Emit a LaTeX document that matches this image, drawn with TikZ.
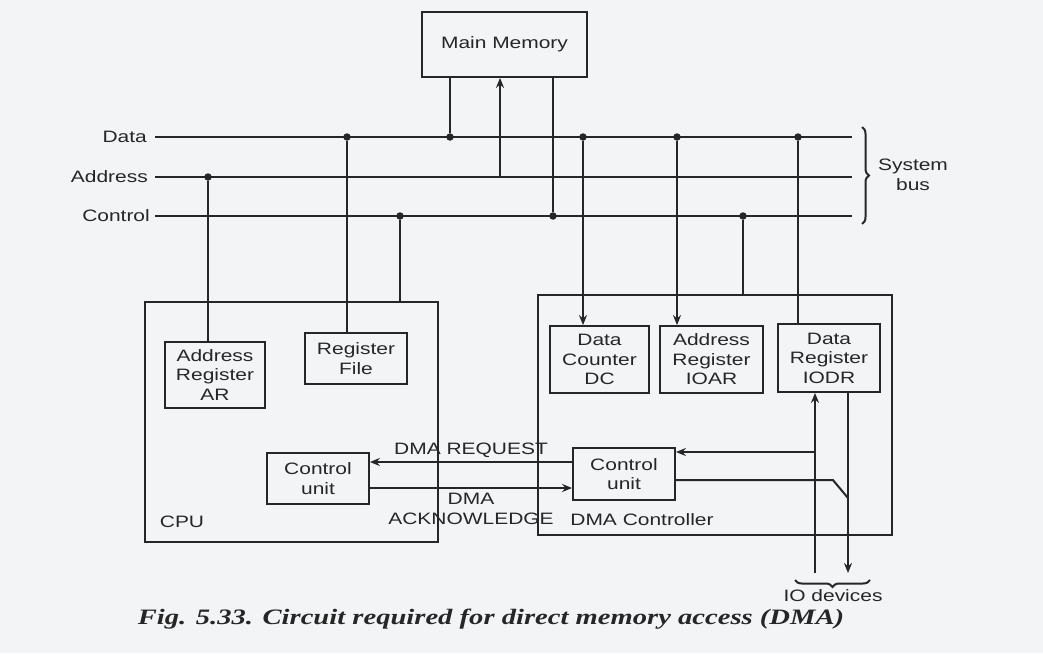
\documentclass[tikz,border=0pt]{standalone}
\usepackage{fontspec}
\setmainfont{Liberation Sans}[FakeStretch=1.27]
\newfontfamily\capfont{Liberation Serif}[FakeStretch=1.3]
\usetikzlibrary{arrows.meta, positioning, decorations.pathreplacing}
\definecolor{ink}{HTML}{262626}
\definecolor{paper}{HTML}{F2F4F6}

\begin{document}
\begin{tikzpicture}[x=1pt, y=-1pt,
    box/.style={rectangle, draw=ink, line width=1.8pt, align=center, text=ink,
                font=\fontsize{16.5}{19.5}\selectfont, inner sep=0pt},
    line/.style={draw=ink, line width=2pt},
    arr/.style={line, -{Stealth[length=10pt, width=8pt]}},
    dot/.style={circle, fill=ink, inner sep=0pt, minimum size=7.5pt},
    lbl/.style={font=\fontsize{16.5}{19.5}\selectfont, text=ink, inner sep=0pt, align=center},
    brc/.style={line, decorate, decoration={brace, amplitude=7pt}}
  ]
  \fill[paper] (0,0) rectangle (1043,653);
  \useasboundingbox (0,0) rectangle (1043,653);

  % memory and the three bus lines
  \node[box, minimum width=165pt, minimum height=65pt] (mm) at (504.5,44.5) {Main Memory};
  \coordinate (dL) at (155,137); \coordinate (dR) at (852,137);
  \coordinate (aL) at (155,177); \coordinate (aR) at (852,177);
  \coordinate (cL) at (155,216); \coordinate (cR) at (852,216);
  \draw[line] (dL) -- (dR);
  \draw[line] (aL) -- (aR);
  \draw[line] (cL) -- (cR);
  \node[lbl, left=8pt of dL] (ldata) {Data};
  \node[lbl, left=7pt of aL] (laddr) {Address};
  \node[lbl, left=5pt of cL] (lctrl) {Control};
  \draw[brc] (862,127) -- (862,224);
  \node[lbl] (sysbus) at (913,175) {System\\bus};

  % CPU
  \node[box, minimum width=293pt, minimum height=240pt] (cpu) at (291.5,422) {};
  \node[box, minimum width=100pt, minimum height=66pt] (ar) at (215,375) {Address\\Register\\AR};
  \node[box, minimum width=102pt, minimum height=51pt] (rf) at (356,358.5) {Register\\File};
  \node[box, minimum width=102pt, minimum height=51pt] (ccu) at (318,478.5) {Control\\unit};
  \node[lbl] (cpulbl) at (182,522) {CPU};

  % DMA controller
  \node[box, minimum width=354pt, minimum height=240pt] (dma) at (715,415) {};
  \node[box, minimum width=99pt, minimum height=67pt] (dc) at (599.5,359.5) {Data\\Counter\\DC};
  \node[box, minimum width=103pt, minimum height=67pt] (ioar) at (711.5,359.5) {Address\\Register\\IOAR};
  \node[box, minimum width=102pt, minimum height=68pt] (iodr) at (829,358) {Data\\Register\\IODR};
  \node[box, minimum width=102pt, minimum height=52pt] (dcu) at (624,474) {Control\\unit};
  \node[lbl] (dmalbl) at (642,520) {DMA Controller};

  % taps on the bus
  \node[dot] (tmd) at (450,137) {};
  \coordinate (tma) at (500,177);
  \node[dot] (tmc) at (553,216) {};
  \node[dot] (tar) at (208,177) {};
  \node[dot] (trf) at (347,137) {};
  \node[dot] (tcpu) at (400,216) {};
  \node[dot] (tdc) at (583,137) {};
  \node[dot] (tioar) at (677,137) {};
  \node[dot] (tiodr) at (798,137) {};
  \node[dot] (tdma) at (743,216) {};
  \draw[line] (mm.south -| tmd) -- (tmd);
  \draw[arr] (tma) -- (tma |- mm.south);
  \draw[line] (mm.south -| tmc) -- (tmc);
  \draw[line] (tar) -- (tar |- ar.north);
  \draw[line] (trf) -- (trf |- rf.north);
  \draw[line] (tcpu) -- (tcpu |- cpu.north);
  \draw[arr] (tdc) -- (tdc |- dc.north);
  \draw[arr] (tioar) -- (tioar |- ioar.north);
  \draw[line] (tiodr) -- (tiodr |- iodr.north);
  \draw[line] (tdma) -- (tdma |- dma.north);

  % handshake
  \draw[arr] ([yshift=12pt]dcu.west) -- ([yshift=12pt]dcu.west -| ccu.east);
  \draw[arr] ([yshift=-9.5pt]ccu.east) -- ([yshift=-9.5pt]ccu.east -| dcu.west);
  \node[lbl] (req) at (471,450) {DMA REQUEST};
  \node[lbl] (ack) at (471,509) {DMA\\ACKNOWLEDGE};

  % IO side
  \coordinate (ioin) at (815,573);
  \coordinate (ioout) at (848,573);
  \coordinate (rq) at (815,452);
  \coordinate (cmd) at (848,498);
  \draw[arr] (ioin) -- (ioin |- iodr.south);
  \draw[arr] (ioout |- iodr.south) -- (ioout);
  \draw[arr] (rq) -- (rq -| dcu.east);
  \draw[line] ([yshift=-6pt]dcu.east) -- ++(157,0) -- (cmd);
  \draw[brc, decoration={mirror}] (795,580) -- (870,580);
  \node[lbl] (io) at (833,596) {IO devices};

  \node[font=\capfont\bfseries\itshape\fontsize{22}{24}\selectfont, text=ink, anchor=base] (cap) at (491,624)
    {Fig. 5.33. Circuit required for direct memory access (DMA)};
\end{tikzpicture}
\end{document}
